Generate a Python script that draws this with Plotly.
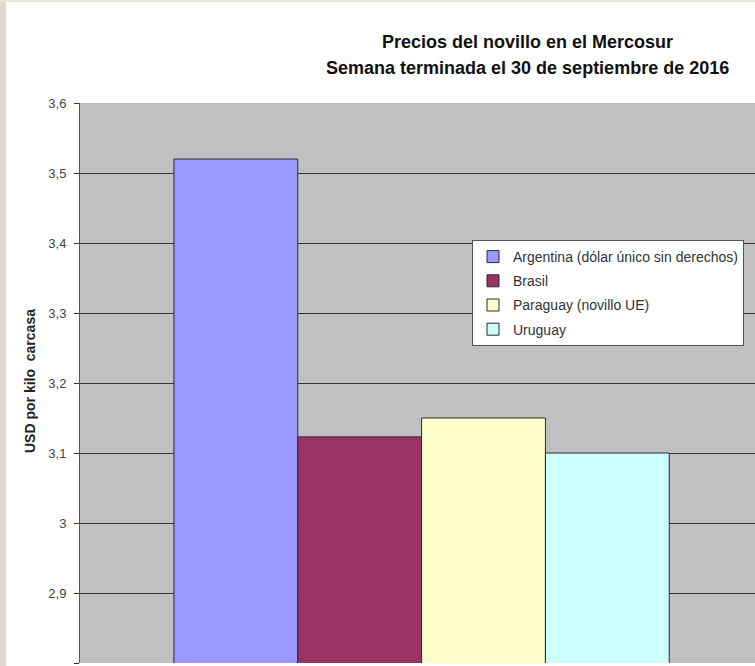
import plotly.graph_objects as go

categories = ["Semana 30/09/2016"]
series_names = ["Argentina (dólar único sin derechos)", "Brasil", "Paraguay (novillo UE)", "Uruguay"]
series_values = [3.52, 3.123, 3.15, 3.10]
series_colors = ["#9999FF", "#993366", "#FFFFCC", "#CCFFFF"]
tick_vals = [2.8, 2.9, 3.0, 3.1, 3.2, 3.3, 3.4, 3.5, 3.6]
tick_text = ["2,8", "2,9", "3", "3,1", "3,2", "3,3", "3,4", "3,5", "3,6"]

fig = go.Figure()
for i, (name, val, col) in enumerate(zip(series_names, series_values, series_colors)):
    fig.add_trace(go.Bar(
        x=categories, y=[val], name=name, legendgroup=f"g{i}",
        marker=dict(color=col, line=dict(color="#2a2a2a", width=1)),
    ))

W, H = 755, 666
L, R, T, B = 80, 0, 103, 3
pw, ph = W - L - R, H - T - B

fig.update_layout(
    width=W, height=H,
    margin=dict(l=L, r=R, t=T, b=B, pad=0, autoexpand=False),
    barmode="group", bargap=0.275, bargroupgap=0,
    paper_bgcolor="white", plot_bgcolor="#C0C0C0",
    font=dict(family="Liberation Sans, Arial, sans-serif", size=12, color="#333333"),
    showlegend=True,
    legend=dict(
        x=(472 - L) / pw, y=(H - B - 240) / ph, xanchor="left", yanchor="top",
        bgcolor="white", bordercolor="#555555", borderwidth=1,
        font=dict(size=14, color="#333333"),
        itemwidth=30, tracegroupgap=3,
    ),
    xaxis=dict(
        range=[-0.5, 0.488], showticklabels=False, showgrid=False,
        zeroline=False, showline=False, ticks="",
    ),
    yaxis=dict(
        range=[2.8, 3.6], tickvals=tick_vals, ticktext=tick_text,
        showgrid=True, gridcolor="#333333", gridwidth=1,
        zeroline=False, showline=True, linecolor="#555555", linewidth=1,
        ticks="outside", ticklen=5, tickcolor="#333333", ticklabelstandoff=5,
        tickfont=dict(size=13, color="#444444"),
    ),
    annotations=[
        dict(text="<b>Precios del novillo en el Mercosur</b>", xref="paper", yref="paper",
             x=(527 - L) / pw, y=(H - B - 42) / ph, xanchor="center", yanchor="middle",
             showarrow=False, font=dict(size=18, color="#111111")),
        dict(text="<b>Semana terminada el 30 de septiembre de 2016</b>", xref="paper", yref="paper",
             x=(527 - L) / pw, y=(H - B - 68) / ph, xanchor="center", yanchor="middle",
             showarrow=False, font=dict(size=18, color="#111111")),
        dict(text="<b>USD por kilo  carcasa</b>", xref="paper", yref="paper",
             x=(30 - L) / pw, y=(H - B - 381) / ph, xanchor="center", yanchor="middle",
             textangle=-90, showarrow=False, font=dict(size=14, color="#222222")),
    ],
    shapes=[
        dict(type="rect", xref="paper", yref="paper", layer="below",
             x0=-L / pw, x1=(6 - L) / pw, y0=-B / ph - 0.01, y1=(H - B) / ph + 0.01,
             fillcolor="#E6D6CA", line=dict(width=0)),
        dict(type="rect", xref="paper", yref="paper", layer="below",
             x0=-L / pw, x1=1.01, y0=(H - B - 2) / ph, y1=(H - B) / ph + 0.01,
             fillcolor="#EDE4DA", line=dict(width=0)),
    ],
)

fig.write_html("out.html", config={"displayModeBar": False},
               post_script="document.body.style.margin='0';")
